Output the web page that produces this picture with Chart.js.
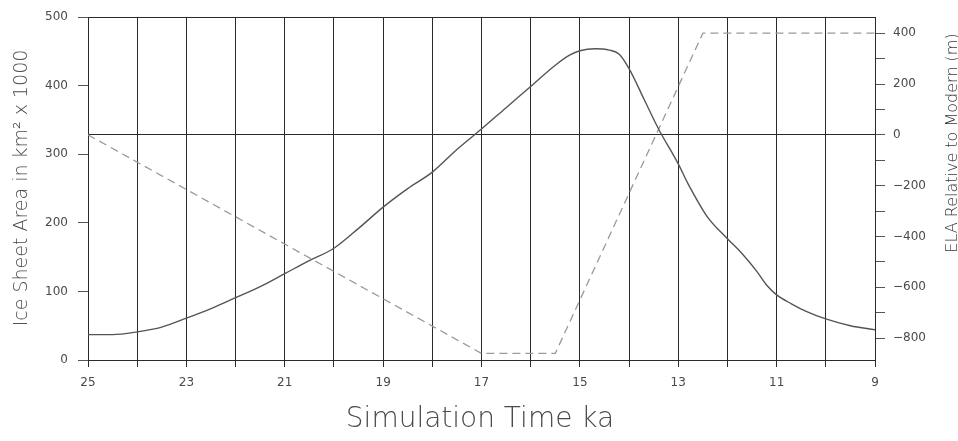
<!DOCTYPE html>
<html>
<head>
<meta charset="utf-8">
<script src="https://cdn.jsdelivr.net/npm/chart.js@4.4.1/dist/chart.umd.min.js"></script>
<style>
    html, body { margin: 0; padding: 0; background: #fff; }
    canvas { display: block; }
</style>
</head>
<body>
<canvas id="iceChart" width="958" height="441"></canvas>
<script>
// Ice sheet area (left axis, km^2 x 1000) against simulation time (ka)
const iceKa = [25, 24.5, 24, 23.5, 23, 22.5, 22, 21.5, 21, 20.5, 20, 19.5, 19, 18.5, 18, 17.5, 17, 16.5, 16, 15.5, 15.2, 15, 14.7, 14.4, 14.2, 14, 13.7, 13.4, 13, 12.8, 12.4, 12, 11.7, 11.4, 11.2, 11, 10.7, 10.4, 10, 9.5, 9];
const iceArea = [37, 37, 41, 48, 61, 75, 91, 107, 126, 145, 163, 192, 223, 250, 274, 307, 337, 368, 399, 430, 445, 451, 454, 452, 446, 425, 381, 337, 286, 257, 208, 177, 155, 129, 109, 95, 82, 71, 60, 50, 44];

// ELA relative to modern (right axis, m)
const elaKa = [25, 17, 15.5, 12.5, 9];
const elaValues = [0, -860, -860, 400, 400];

// Tick values
const timeTicks = [9, 10, 11, 12, 13, 14, 15, 16, 17, 18, 19, 20, 21, 22, 23, 24, 25];
const areaTicks = [0, 100, 200, 300, 400, 500];
const elaTicks = [-800, -700, -600, -500, -400, -300, -200, -100, 0, 100, 200, 300, 400];

const tickFont = { family: 'DejaVu Sans', size: 12 };
const textColor = '#4a4a4a';
const lineColor = '#2a2a2a';

// Axis titles drawn straight onto the canvas
const titlePlugin = {
    id: 'titles',
    afterDraw(chart) {
        const ctx = chart.ctx;
        ctx.save();
        ctx.fillStyle = textColor;
        ctx.textAlign = 'center';
        ctx.textBaseline = 'middle';

        ctx.font = '200 28px "DejaVu Sans"';
        ctx.fillText('Simulation Time ka', 480, 420);

        ctx.font = '200 19px "DejaVu Sans"';
        ctx.translate(22, 188);
        ctx.rotate(-Math.PI / 2);
        ctx.fillText('Ice Sheet Area in km\u00b2 x 1000', 0, 0);
        ctx.restore();

        ctx.save();
        ctx.fillStyle = '#333';
        ctx.textAlign = 'center';
        ctx.textBaseline = 'middle';
        ctx.font = '200 16px "DejaVu Sans"';
        ctx.translate(953, 143);
        ctx.rotate(-Math.PI / 2);
        ctx.fillText('ELA Relative to Modern (m)', 0, 0);
        ctx.restore();
    }
};

const ctx = document.getElementById('iceChart').getContext('2d');
new Chart(ctx, {
    type: 'line',
    data: {
        datasets: [{
            label: 'Ice Sheet Area',
            data: iceKa.map((k, i) => ({ x: k, y: iceArea[i] })),
            yAxisID: 'yArea',
            borderColor: '#555',
            borderWidth: 1.4,
            pointRadius: 0,
            cubicInterpolationMode: 'monotone',
            fill: false
        }, {
            label: 'ELA',
            data: elaKa.map((k, i) => ({ x: k, y: elaValues[i] })),
            yAxisID: 'yEla',
            borderColor: '#9a9a9a',
            borderWidth: 1.3,
            borderDash: [8, 5],
            pointRadius: 0,
            tension: 0,
            fill: false
        }]
    },
    options: {
        responsive: false,
        animation: false,
        devicePixelRatio: 1,
        layout: { padding: { top: 16, left: 0, right: 0, bottom: 0 } },
        plugins: {
            legend: { display: false },
            tooltip: { enabled: false }
        },
        scales: {
            x: {
                type: 'linear',
                reverse: true,
                min: 9,
                max: 25,
                afterBuildTicks: s => { s.ticks = timeTicks.map(v => ({ value: v })); },
                afterFit: s => { s.height = 81; },
                ticks: {
                    autoSkip: false,
                    maxRotation: 0,
                    padding: 9,
                    color: textColor,
                    font: tickFont,
                    callback: v => (v % 2 === 1 ? String(v) : '')
                },
                grid: {
                    color: lineColor,
                    lineWidth: 1,
                    tickLength: 7
                },
                border: { display: true, color: lineColor, width: 1 }
            },
            yArea: {
                type: 'linear',
                position: 'left',
                min: 0,
                max: 500,
                afterBuildTicks: s => { s.ticks = areaTicks.map(v => ({ value: v })); },
                afterFit: s => { s.width = 88; },
                ticks: {
                    padding: 10,
                    color: textColor,
                    font: tickFont
                },
                grid: {
                    color: c => (c.tick && c.tick.value === 500 ? lineColor : 'rgba(0,0,0,0)'),
                    tickColor: '#555',
                    tickLength: 10
                },
                border: { display: true, color: lineColor, width: 1 }
            },
            yEla: {
                type: 'linear',
                position: 'right',
                min: -886,
                max: 463,
                afterBuildTicks: s => { s.ticks = elaTicks.map(v => ({ value: v })); },
                afterFit: s => { s.width = 83; },
                ticks: {
                    padding: 8,
                    color: textColor,
                    font: tickFont,
                    callback: v => (v % 200 === 0 ? (v < 0 ? '\u2212' + Math.abs(v) : String(v)) : '')
                },
                grid: {
                    color: c => (c.tick && c.tick.value === 0 ? lineColor : 'rgba(0,0,0,0)'),
                    tickColor: '#555',
                    tickLength: 10
                },
                border: { display: true, color: lineColor, width: 1 }
            }
        }
    },
    plugins: [titlePlugin]
});
</script>
</body>
</html>
